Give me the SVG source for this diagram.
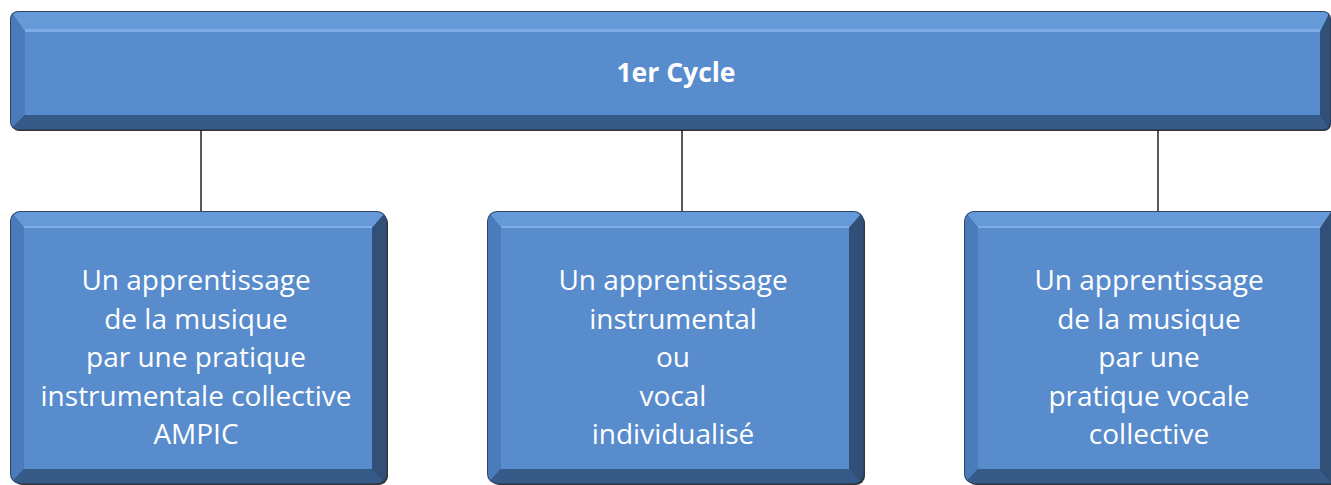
<svg xmlns="http://www.w3.org/2000/svg" width="1331" height="485" viewBox="0 0 1331 485">
<style>
.shadow{fill:#111;opacity:0.85}
.edge{fill:#2c4466}
.bt{fill:#6699d8}
.bl{fill:#4a7cbc}
.bb{fill:#375b88}
.br{fill:#314f77}
.face{fill:#588ccd}
.hl{fill:#7fade6}
.lbl{font-family:"Open Sans","Liberation Sans",sans-serif;font-size:28px;fill:#fff;text-anchor:middle}
.title{font-family:"Open Sans","Liberation Sans",sans-serif;font-size:26.5px;font-weight:bold;fill:#fff;text-anchor:middle}
.conn{stroke:#000;stroke-width:1.3;fill:none}
</style>
<defs>
<clipPath id="c0"><rect x="11" y="12" width="1319" height="117" rx="7"/></clipPath>
<clipPath id="c1"><rect x="11" y="212" width="375" height="271" rx="9"/></clipPath>
<clipPath id="c2"><rect x="488" y="212" width="375" height="271" rx="9"/></clipPath>
<clipPath id="c3"><rect x="965" y="212" width="375" height="271" rx="9"/></clipPath>
</defs>
<g id="connectors">
<line class="conn" x1="201" y1="129" x2="201" y2="212"/>
<line class="conn" x1="682" y1="129" x2="682" y2="212"/>
<line class="conn" x1="1158" y1="129" x2="1158" y2="212"/>
</g>
<g id="cycle">
<rect class="shadow" x="12" y="14" width="1319" height="117" rx="7"/>
<rect class="edge" x="10" y="11" width="1321" height="119" rx="8"/>
<g clip-path="url(#c0)">
<polygon class="bt" points="11,12 1330,12 1320,32 25,32"/>
<rect class="hl" x="25" y="29" width="1295" height="3"/>
<polygon class="bl" points="11,12 25,32 25,115 11,129"/>
<polygon class="bb" points="11,129 25,115 1320,115 1330,129"/>
<polygon class="br" points="1330,12 1330,129 1320,115 1320,32"/>
<rect class="face" x="25" y="32" width="1295" height="83"/>
</g>
<text class="title" x="676" y="82">1er Cycle</text>
</g>
<g id="ampic">
<rect class="shadow" x="13" y="214" width="375" height="271" rx="9"/>
<rect class="edge" x="10" y="211" width="377" height="273" rx="10"/>
<g clip-path="url(#c1)">
<polygon class="bt" points="11,212 386,212 372,228 24,228"/>
<rect class="hl" x="24" y="226" width="348" height="2"/>
<polygon class="bl" points="11,212 24,228 24,469 11,483"/>
<polygon class="bb" points="11,483 24,469 372,469 386,483"/>
<polygon class="br" points="386,212 386,483 372,469 372,228"/>
<rect class="face" x="24" y="228" width="348" height="241"/>
</g>
<text class="lbl" x="196" y="290">Un apprentissage</text>
<text class="lbl" x="196" y="328.5">de la musique</text>
<text class="lbl" x="196" y="367">par une pratique</text>
<text class="lbl" x="196" y="405.5">instrumentale collective</text>
<text class="lbl" x="196" y="444">AMPIC</text>
</g>
<g id="individuel">
<rect class="shadow" x="490" y="214" width="375" height="271" rx="9"/>
<rect class="edge" x="487" y="211" width="377" height="273" rx="10"/>
<g clip-path="url(#c2)">
<polygon class="bt" points="488,212 863,212 849,228 501,228"/>
<rect class="hl" x="501" y="226" width="348" height="2"/>
<polygon class="bl" points="488,212 501,228 501,469 488,483"/>
<polygon class="bb" points="488,483 501,469 849,469 863,483"/>
<polygon class="br" points="863,212 863,483 849,469 849,228"/>
<rect class="face" x="501" y="228" width="348" height="241"/>
</g>
<text class="lbl" x="673" y="290">Un apprentissage</text>
<text class="lbl" x="673" y="328.5">instrumental</text>
<text class="lbl" x="673" y="367">ou</text>
<text class="lbl" x="673" y="405.5">vocal</text>
<text class="lbl" x="673" y="444">individualisé</text>
</g>
<g id="vocale">
<rect class="shadow" x="967" y="214" width="375" height="271" rx="9"/>
<rect class="edge" x="964" y="211" width="377" height="273" rx="10"/>
<g clip-path="url(#c3)">
<polygon class="bt" points="965,212 1340,212 1326,228 978,228"/>
<rect class="hl" x="978" y="226" width="348" height="2"/>
<polygon class="bl" points="965,212 978,228 978,469 965,483"/>
<polygon class="bb" points="965,483 978,469 1320,469 1331,483"/>
<polygon class="br" points="1331,212 1331,483 1320,469 1320,228"/>
<rect class="face" x="978" y="228" width="342" height="241"/>
</g>
<text class="lbl" x="1149" y="290">Un apprentissage</text>
<text class="lbl" x="1149" y="328.5">de la musique</text>
<text class="lbl" x="1149" y="367">par une</text>
<text class="lbl" x="1149" y="405.5">pratique vocale</text>
<text class="lbl" x="1149" y="444">collective</text>
</g>
</svg>
